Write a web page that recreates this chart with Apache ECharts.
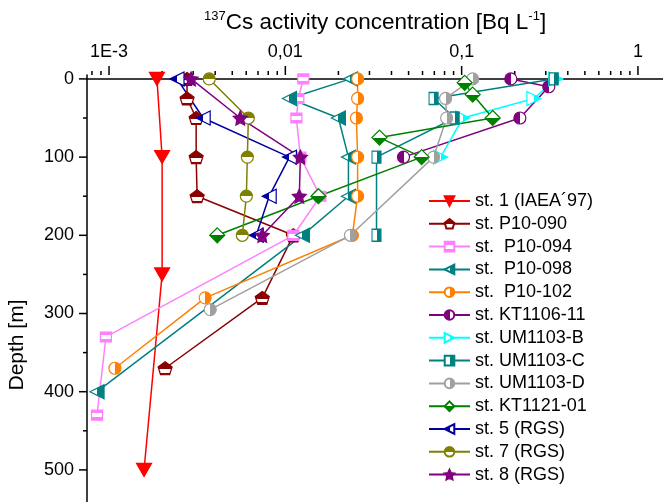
<!DOCTYPE html>
<html>
<head>
<meta charset="utf-8">
<script src="https://cdn.jsdelivr.net/npm/echarts@6/dist/echarts.min.js"></script>
<style>
  html, body { margin: 0; padding: 0; background: #fff; }
  #chart { width: 663px; height: 502px; }
</style>
</head>
<body>
<div id="chart"></div>
<script>
// depth [m] and 137Cs [Bq/L] for each station
var st1Depth = [0, 100, 250, 500];
var st1Cs = [0.00187, 0.0020, 0.0020, 0.00158];

var p090Depth = [0, 25, 50, 100, 150, 200, 280, 370];
var p090Cs = [0.00277, 0.00277, 0.00312, 0.00312, 0.00316, 0.0111, 0.0074, 0.00208];

var p094Depth = [0, 25, 50, 100, 150, 200, 330, 430];
var p094Cs = [0.01265, 0.01185, 0.01155, 0.01217, 0.0158, 0.0111, 0.00096, 0.000855];

var p098Depth = [0, 25, 50, 100, 150, 200, 400];
var p098Cs = [0.0234, 0.01055, 0.0200, 0.0228, 0.0228, 0.0125, 0.000855];

var p102Depth = [0, 25, 50, 100, 150, 200, 280, 370];
var p102Cs = [0.0257, 0.0257, 0.0253, 0.0257, 0.0257, 0.0240, 0.00351, 0.00108];

var kt1106Depth = [0, 10, 50, 100];
var kt1106Cs = [0.190, 0.312, 0.214, 0.0468];

var umbDepth = [0, 25, 50, 100];
var umbCs = [0.342, 0.257, 0.1015, 0.076];

var umcDepth = [0, 25, 50, 100, 200];
var umcCs = [0.333, 0.0693, 0.0913, 0.0329, 0.0329];

var umdDepth = [0, 25, 50, 100, 200, 295];
var umdCs = [0.1155, 0.0811, 0.0822, 0.0693, 0.0234, 0.00375];

var kt1121Depth = [5, 20, 50, 75, 100, 150, 200];
var kt1121Cs = [0.104, 0.1155, 0.150, 0.0342, 0.0593, 0.0154, 0.00411];

var st5Depth = [0, 50, 100, 150, 200];
var st5Cs = [0.00243, 0.00342, 0.01055, 0.0081, 0.00684];

var st7Depth = [0, 50, 100, 150, 200];
var st7Cs = [0.0037, 0.00617, 0.00609, 0.00601, 0.0057];

var st8Depth = [0, 50, 100, 150, 200];
var st8Cs = [0.00292, 0.00555, 0.01217, 0.0120, 0.0074];

var names = ['st. 1 (IAEA\u00b497)', 'st. P10-090', 'st.  P10-094', 'st.  P10-098', 'st.  P10-102',
  'st. KT1106-11', 'st. UM1103-B', 'st. UM1103-C', 'st. UM1103-D', 'st. KT1121-01',
  'st. 5 (RGS)', 'st. 7 (RGS)', 'st. 8 (RGS)'];

// axis ticks
var xMajorTicks = [0.001, 0.01, 0.1, 1];
var xMinorTicks = [0.0008, 0.0009,
  0.002, 0.003, 0.004, 0.005, 0.006, 0.007, 0.008, 0.009,
  0.02, 0.03, 0.04, 0.05, 0.06, 0.07, 0.08, 0.09,
  0.2, 0.3, 0.4, 0.5, 0.6, 0.7, 0.8, 0.9];
var yMajorTicks = [0, 100, 200, 300, 400, 500];
var yMinorTicks = [50, 150, 250, 350, 450];
var xLabels = {'-3': '1E-3', '-2': '0,01', '-1': '0,1', '0': '1'};

var X_MIN = 0.00075, X_MAX = 1.387, Y_MIN = -5, Y_MAX = 550;
var FONT = 'Liberation Sans, Arial, sans-serif';

function pairs(cs, depth) {
    var out = [];
    for (var i = 0; i < cs.length; i++) {
        out.push([cs[i], depth[i]]);
    }
    return out;
}

// hard-stop gradient: half of the marker white
function half(color, dir, from, to) {
    var horiz = dir == 'h';
    return {
        type: 'linear', x: 0, y: 0, x2: horiz ? 1 : 0, y2: horiz ? 0 : 1,
        colorStops: [
            {offset: 0, color: from == 'w' ? '#fff' : color},
            {offset: 0.5, color: from == 'w' ? '#fff' : color},
            {offset: 0.5, color: to == 'w' ? '#fff' : color},
            {offset: 1, color: to == 'w' ? '#fff' : color}
        ]
    };
}

function band(color, a, b) {
    return {
        type: 'linear', x: 0, y: 0, x2: 0, y2: 1,
        colorStops: [
            {offset: 0, color: color}, {offset: a, color: color},
            {offset: a, color: '#fff'}, {offset: b, color: '#fff'},
            {offset: b, color: color}, {offset: 1, color: color}
        ]
    };
}

var triDown = 'path://M-8,-7L8,-7L0,7Z';
var triLeft = 'path://M-8,0L7,-8L7,8Z';
var triRight = 'path://M8,0L-7,-8L-7,8Z';
var pentagon = 'path://M0,-10L10,-2.5L6.5,9L-6.5,9L-10,-2.5Z';
var star = 'path://M0,-10L2.9,-4L9.5,-3.1L4.7,1.5L5.9,8.1L0,5L-5.9,8.1L-4.7,1.5L-9.5,-3.1L-2.9,-4Z';

function line(name, cs, depth, color, symbol, size, fill) {
    return {
        name: name,
        type: 'line',
        data: pairs(cs, depth),
        symbol: symbol,
        symbolSize: size,
        showAllSymbol: true,
        lineStyle: {color: color, width: 1.5},
        itemStyle: {color: fill || color, borderColor: color, borderWidth: 1.2},
        emphasis: {disabled: true}
    };
}

var series = [
    line(names[0], st1Cs, st1Depth, '#ff0000', triDown, [15, 13]),
    line(names[1], p090Cs, p090Depth, '#8b0000', pentagon, [14, 13], band('#8b0000', 0.55, 0.82)),
    line(names[2], p094Cs, p094Depth, '#ff80ff', 'rect', [11, 10], band('#ff80ff', 0.35, 0.7)),
    line(names[3], p098Cs, p098Depth, '#008080', triLeft, [14, 14], half('#008080', 'h', 'w', 'c')),
    line(names[4], p102Cs, p102Depth, '#ff8000', 'circle', 12, half('#ff8000', 'h', 'w', 'c')),
    line(names[5], kt1106Cs, kt1106Depth, '#800080', 'circle', 12, half('#800080', 'h', 'c', 'w')),
    line(names[6], umbCs, umbDepth, '#00ffff', triRight, [14, 14], half('#00ffff', 'h', 'w', 'c')),
    line(names[7], umcCs, umcDepth, '#008080', 'rect', [9, 12], half('#008080', 'h', 'w', 'c')),
    line(names[8], umdCs, umdDepth, '#a0a0a0', 'circle', 12, half('#a0a0a0', 'h', 'w', 'c')),
    line(names[9], kt1121Cs, kt1121Depth, '#008000', 'diamond', [15, 15], half('#008000', 'v', 'w', 'c')),
    line(names[10], st5Cs, st5Depth, '#0000a0', triLeft, [14, 14], half('#0000a0', 'h', 'c', 'w')),
    line(names[11], st7Cs, st7Depth, '#808000', 'circle', 12, half('#808000', 'v', 'c', 'w')),
    line(names[12], st8Cs, st8Depth, '#800080', star, [14, 14])
];

// hand-made ticks on both axes (log minor ticks)
var xTickData = [];
xMajorTicks.forEach(function (v) { xTickData.push([v, Y_MIN, 9]); });
xMinorTicks.forEach(function (v) { xTickData.push([v, Y_MIN, 4]); });
var yTickData = [];
yMajorTicks.forEach(function (d) { yTickData.push([X_MIN, d, 8]); });
yMinorTicks.forEach(function (d) { yTickData.push([X_MIN, d, 4]); });

series.push({
    type: 'custom',
    silent: true,
    clip: false,
    data: xTickData,
    renderItem: function (params, api) {
        var p = api.coord([api.value(0), api.value(1)]);
        return {type: 'line', shape: {x1: p[0], y1: p[1], x2: p[0], y2: p[1] - api.value(2)},
            style: {stroke: '#000', lineWidth: 1.5}};
    }
});
series.push({
    type: 'custom',
    silent: true,
    clip: false,
    data: yTickData,
    renderItem: function (params, api) {
        var p = api.coord([api.value(0), api.value(1)]);
        return {type: 'line', shape: {x1: p[0], y1: p[1], x2: p[0] - api.value(2), y2: p[1]},
            style: {stroke: '#000', lineWidth: 1.5}};
    }
});

var myChart = echarts.init(document.getElementById('chart'));
var option = {
    animation: false,
    backgroundColor: '#fff',
    textStyle: {fontFamily: FONT},
    grid: {left: 87, top: 75, width: 576, height: 434, containLabel: false, outerBoundsMode: 'none'},
    xAxis: {
        type: 'log',
        position: 'top',
        min: X_MIN,
        max: X_MAX,
        logBase: 10,
        axisLine: {show: true, lineStyle: {color: '#000', width: 1.5}},
        axisTick: {show: false},
        splitLine: {show: false},
        axisLabel: {
            margin: 14,
            fontSize: 18,
            color: '#000',
            fontFamily: FONT,
            formatter: function (v) {
                var e = Math.log(v) / Math.LN10;
                if (Math.abs(e - Math.round(e)) > 1e-6) return '';
                return xLabels[String(Math.round(e))] || '';
            }
        }
    },
    yAxis: {
        type: 'value',
        inverse: true,
        min: Y_MIN,
        max: Y_MAX,
        axisLine: {show: true, lineStyle: {color: '#000', width: 1.5}},
        axisTick: {show: false},
        splitLine: {show: false},
        axisLabel: {
            margin: 13,
            fontSize: 18,
            color: '#000',
            fontFamily: FONT,
            formatter: function (v) {
                return (v >= 0 && v <= 500 && v % 100 == 0) ? String(v) : '';
            }
        }
    },
    legend: {
        data: names,
        orient: 'vertical',
        left: 428,
        top: 192,
        padding: 0,
        itemWidth: 41,
        itemHeight: 12,
        itemGap: 4.8,
        textStyle: {fontSize: 18, color: '#000', fontFamily: FONT, lineHeight: 18}
    },
    graphic: [
        {
            type: 'text',
            left: 204,
            top: 10,
            style: {
                text: '{sup|137}{main|Cs activity concentration [Bq L}{sup|-1}{main|]}',
                rich: {
                    main: {fontSize: 22.5, fontFamily: FONT, fill: '#000', lineHeight: 26},
                    sup: {fontSize: 13, fontFamily: FONT, fill: '#000', verticalAlign: 'top', lineHeight: 13}
                }
            }
        },
        {
            type: 'text',
            x: 17,
            y: 345,
            rotation: Math.PI / 2,
            style: {
                text: 'Depth [m]',
                fontSize: 21,
                fontFamily: FONT,
                fill: '#000',
                align: 'center',
                verticalAlign: 'middle'
            }
        }
    ],
    series: series
};
myChart.setOption(option);
</script>
</body>
</html>
